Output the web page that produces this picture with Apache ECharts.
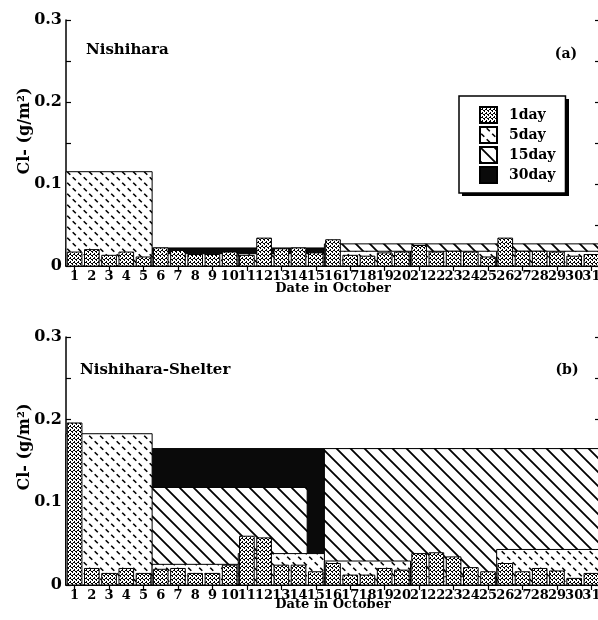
<!DOCTYPE html>
<html>
<head>
<meta charset="utf-8">
<script src="https://cdn.jsdelivr.net/npm/echarts@6/dist/echarts.min.js"></script>
<style>
  html, body { margin: 0; padding: 0; background: #fff; }
  #chart { width: 598px; height: 620px; }
</style>
</head>
<body>
<div id="chart"></div>
<script>
// days of October
const days = ['1','2','3','4','5','6','7','8','9','10','11','12','13','14','15','16',
  '17','18','19','20','21','22','23','24','25','26','27','28','29','30','31']

// 1-day samples (g/m2)
const oneDayA = [0.017, 0.020, 0.013, 0.017, 0.011, 0.022, 0.019, 0.014, 0.014, 0.017,
  0.013, 0.034, 0.021, 0.022, 0.016, 0.032, 0.013, 0.012, 0.016, 0.017,
  0.025, 0.017, 0.018, 0.017, 0.011, 0.034, 0.018, 0.018, 0.017, 0.012, 0.014]
const oneDayB = [0.196, 0.020, 0.014, 0.020, 0.014, 0.019, 0.020, 0.014, 0.014, 0.024,
  0.059, 0.057, 0.024, 0.024, 0.016, 0.026, 0.012, 0.012, 0.020, 0.018,
  0.038, 0.039, 0.034, 0.021, 0.016, 0.026, 0.016, 0.020, 0.017, 0.008, 0.014]

// 5-day samples
const fiveDayStart = [1, 6, 11, 16, 21, 26]
const fiveDayEnd = [5, 10, 15, 20, 25, 31]
const fiveDayA = [0.115, 0.015, 0.015, 0.018, 0.018, 0.018]
const fiveDayB = [0.183, 0.025, 0.038, 0.029, 0.010, 0.043]

// 15-day samples
const fifteenDayStart = [1, 16]
const fifteenDayEnd = [14, 31]
const fifteenDayA = [0.010, 0.027]
const fifteenDayB = [0.118, 0.165]

// 30-day samples
const thirtyDayStart = [1]
const thirtyDayEnd = [31]
const thirtyDayA = [0.022]
const thirtyDayB = [0.165]

// fill patterns
const makePattern = (w, h, draw) => {
  const c = document.createElement('canvas')
  c.width = w
  c.height = h
  const ctx = c.getContext('2d')
  ctx.fillStyle = '#fff'
  ctx.fillRect(0, 0, w, h)
  ctx.fillStyle = '#000'
  ctx.strokeStyle = '#000'
  draw(ctx)
  return { image: c, repeat: 'repeat' }
}

const dotPattern = makePattern(4, 4, ctx => {
  ctx.fillRect(0, 0, 1, 1)
  ctx.fillRect(2, 1, 1, 1)
  ctx.fillRect(1, 2, 2, 1)
  ctx.fillRect(3, 3, 1, 1)
  ctx.fillRect(0, 3, 1, 1)
})
const dashPattern = makePattern(11, 11, ctx => {
  ctx.lineWidth = 1.6
  ctx.beginPath()
  ctx.moveTo(1.2, 6.7); ctx.lineTo(4.3, 9.8)
  ctx.moveTo(6.7, 1.2); ctx.lineTo(9.8, 4.3)
  ctx.stroke()
})
const hatchPattern = makePattern(14, 14, ctx => {
  ctx.lineWidth = 1.8
  ctx.beginPath()
  ctx.moveTo(-2, -2); ctx.lineTo(16, 16)
  ctx.moveTo(-2, 12); ctx.lineTo(2, 16)
  ctx.moveTo(12, -2); ctx.lineTo(16, 2)
  ctx.stroke()
})
const solidFill = '#0a0a0a'

const numFont = '"DejaVu Serif"'

const periodSeries = (name, panel, starts, ends, values, fill, widthFactor) => ({
  type: 'custom',
  name: name,
  xAxisIndex: panel * 2,
  yAxisIndex: panel * 2,
  silent: true,
  animation: false,
  encode: { x: [0, 1], y: 2 },
  itemStyle: { color: fill, borderColor: '#000', borderWidth: 1 },
  data: values.map((v, i) => [starts[i] - 1, ends[i] - 1, v]),
  renderItem: (params, api) => {
    const band = api.size([1, 0])[0]
    const top = api.coord([api.value(0), api.value(2)])
    const bottom = api.coord([api.value(1), 0])
    const x0 = top[0] - band / 2 * widthFactor
    const x1 = bottom[0] + band / 2 * widthFactor
    return {
      type: 'rect',
      shape: { x: x0, y: top[1], width: x1 - x0, height: bottom[1] - top[1] },
      style: { fill: fill, stroke: '#000', lineWidth: 1 }
    }
  }
})

const xAxesFor = gridIndex => ([
  {
    type: 'category',
    gridIndex: gridIndex,
    position: 'bottom',
    data: days,
    axisLine: { lineStyle: { color: '#000', width: 1.5 } },
    axisTick: { show: false },
    axisLabel: { interval: 0, margin: 4, color: '#000', fontFamily: numFont, fontWeight: 'bold', fontSize: 13 }
  },
  {
    type: 'category',
    gridIndex: gridIndex,
    position: 'top',
    data: days,
    axisLine: { lineStyle: { color: '#000', width: 1.5 } },
    axisTick: { show: true, inside: true, alignWithLabel: true, length: 5, lineStyle: { color: '#000', width: 1.2 } },
    axisLabel: { show: false }
  }
])

const yAxesFor = gridIndex => ([
  {
    type: 'value',
    gridIndex: gridIndex,
    position: 'left',
    min: 0,
    max: 0.3,
    interval: 0.05,
    splitLine: { show: false },
    axisLine: { show: true, lineStyle: { color: '#000', width: 1.5 } },
    axisTick: { show: true, inside: true, length: 5, lineStyle: { color: '#000', width: 1.2 } },
    axisLabel: {
      margin: 4,
      color: '#000',
      fontFamily: numFont,
      fontWeight: 'bold',
      fontSize: 16,
      formatter: v => {
        const k = Math.round(v * 100)
        if (k % 10 !== 0) return ''
        return k === 0 ? '0' : (k / 100).toFixed(1)
      }
    }
  },
  {
    type: 'value',
    gridIndex: gridIndex,
    position: 'right',
    min: 0,
    max: 0.3,
    interval: 0.05,
    splitLine: { show: false },
    axisLine: { show: true, lineStyle: { color: '#000', width: 1.5 } },
    axisTick: { show: true, inside: true, length: 5, lineStyle: { color: '#000', width: 1.2 } },
    axisLabel: { show: false }
  }
])

const label = (text, x, y, size, align, rotation) => ({
  type: 'text',
  x: x,
  y: y,
  rotation: rotation || 0,
  silent: true,
  style: {
    text: text,
    fill: '#000',
    font: 'bold ' + size + 'px "DejaVu Serif"',
    align: align,
    verticalAlign: 'middle'
  }
})

const chart = echarts.init(document.getElementById('chart'))

chart.setOption({
  backgroundColor: '#fff',
  animation: false,
  grid: [
    { left: 66, top: 20, width: 534, height: 246, outerBoundsMode: 'none', containLabel: false },
    { left: 66, top: 337, width: 534, height: 248, outerBoundsMode: 'none', containLabel: false }
  ],
  xAxis: [...xAxesFor(0), ...xAxesFor(1)],
  yAxis: [...yAxesFor(0), ...yAxesFor(1)],
  legend: {
    orient: 'vertical',
    left: 459,
    top: 96,
    z: 5,
    padding: [10, 10, 9, 20],
    itemWidth: 17,
    itemHeight: 16,
    itemGap: 2,
    icon: 'rect',
    selectedMode: false,
    backgroundColor: '#fff',
    borderColor: '#000',
    borderWidth: 1.5,
    textStyle: { color: '#000', fontFamily: numFont, fontWeight: 'bold', fontSize: 14, lineHeight: 16, padding: [0, 0, 0, 7] },
    data: ['1day', '5day', '15day', '30day']
  },
  graphic: [
    // legend drop shadow
    { type: 'rect', z: 4, silent: true, shape: { x: 462, y: 99, width: 107, height: 97 }, style: { fill: '#000' } },
    label('Nishihara', 86, 50, 15, 'left'),
    label('(a)', 566, 54, 14, 'center'),
    label('Nishihara-Shelter', 80, 370, 15, 'left'),
    label('(b)', 567, 370, 14, 'center'),
    label('Cl- (g/m²)', 25, 131, 16, 'center', Math.PI / 2),
    label('Cl- (g/m²)', 25, 447, 16, 'center', Math.PI / 2),
    label('Date in October', 333, 289, 13, 'center'),
    label('Date in October', 333, 605, 13, 'center')
  ],
  series: [
    periodSeries('30day', 0, thirtyDayStart, thirtyDayEnd, thirtyDayA, solidFill, 1),
    periodSeries('15day', 0, fifteenDayStart, fifteenDayEnd, fifteenDayA, hatchPattern, 1),
    periodSeries('5day', 0, fiveDayStart, fiveDayEnd, fiveDayA, dashPattern, 1),
    periodSeries('1day', 0, days.map(Number), days.map(Number), oneDayA, dotPattern, 0.85),
    periodSeries('30day', 1, thirtyDayStart, thirtyDayEnd, thirtyDayB, solidFill, 1),
    periodSeries('15day', 1, fifteenDayStart, fifteenDayEnd, fifteenDayB, hatchPattern, 1),
    periodSeries('5day', 1, fiveDayStart, fiveDayEnd, fiveDayB, dashPattern, 1),
    periodSeries('1day', 1, days.map(Number), days.map(Number), oneDayB, dotPattern, 0.85)
  ]
})
</script>
</body>
</html>
